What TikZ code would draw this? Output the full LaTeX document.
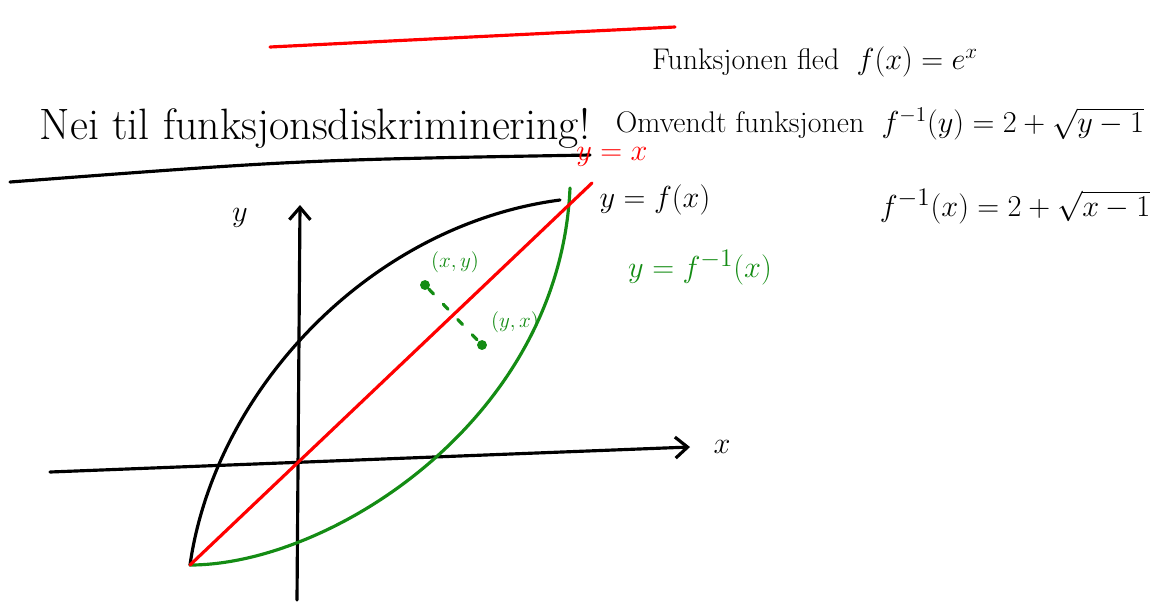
\documentclass[tikz,border=0pt]{standalone}
\usepackage{amsmath,amssymb}
\usepackage{xcolor}
\usetikzlibrary{arrows.meta,positioning,calc}
\definecolor{penred}{RGB}{255,0,0}
\definecolor{pengreen}{RGB}{20,140,20}

\begin{document}
\begin{tikzpicture}[x=0.02cm,y=-0.02cm,>={Straight Barb[length=7pt,width=12pt]},
  ink/.style={line width=1.8pt,line cap=round},
  hand/.style={font=\fontsize{25}{29}\selectfont,inner sep=1pt},
  note/.style={font=\fontsize{17}{20}\selectfont,inner sep=1pt},
  big/.style={font=\fontsize{19}{22}\selectfont,inner sep=1pt},
  tag/.style={font=\fontsize{13}{15}\selectfont,inner sep=1pt}]
  \useasboundingbox (0,0) rectangle (1159,603);
  % top strokes and headings
  \draw[ink,penred] (270,47) .. controls (450,38) .. (675,27);
  \node[hand] (title) at (315,128) {Nei til funksjonsdiskriminering!};
  \draw[ink] (10,182) .. controls (300,160) .. (590,155);
  \node[note] (fdef) at (815,62) {Funksjonen fled\; $f(x)=e^{x}$};
  \node[note] (finv) at (880,124) {Omvendt funksjonen\; $f^{-1}(y)=2+\sqrt{y-1}$};
  \node[big] (finvx) at (1015,207) {$f^{-1}(x)=2+\sqrt{x-1}$};
  % axes
  \coordinate (xs) at (50,472);
  \coordinate (xe) at (690,447);
  \coordinate (ys) at (297,600);
  \coordinate (ye) at (300,205);
  \draw[ink,->] (xs) -- (xe);
  \draw[ink,->] (ys) -- (ye);
  \node[big] (xlab) at (722,447) {$x$};
  \node[big] (ylab) at (240,218) {$y$};
  % graphs
  \coordinate (o) at (190,565);
  \coordinate (ftop) at (560,200);
  \coordinate (gtop) at (570,188);
  \coordinate (rtop) at (592,183);
  \draw[ink] (o) .. controls (215,390) and (370,225) .. (ftop);
  \draw[ink,pengreen] (o) .. controls (330,565) and (560,420) .. (gtop);
  \draw[ink,penred] (o) -- (rtop);
  \node[note,text=penred] (idlab) at (612,157) {$y=x$};
  \node[big] (flab) at (655,200) {$y=f(x)$};
  \node[big,text=pengreen] (glab) at (700,268) {$y=f^{-1}(x)$};
  % mirrored points
  \node[circle,fill=pengreen,inner sep=2pt] (p) at (425,285) {};
  \node[circle,fill=pengreen,inner sep=2pt] (q) at (482,345) {};
  \draw[ink,pengreen,dashed,dash pattern=on 4pt off 8pt] (p) -- (q);
  \node[tag,text=pengreen] (plab) at (455,262) {$(x,y)$};
  \node[tag,text=pengreen] (qlab) at (515,322) {$(y,x)$};
\end{tikzpicture}
\end{document}
